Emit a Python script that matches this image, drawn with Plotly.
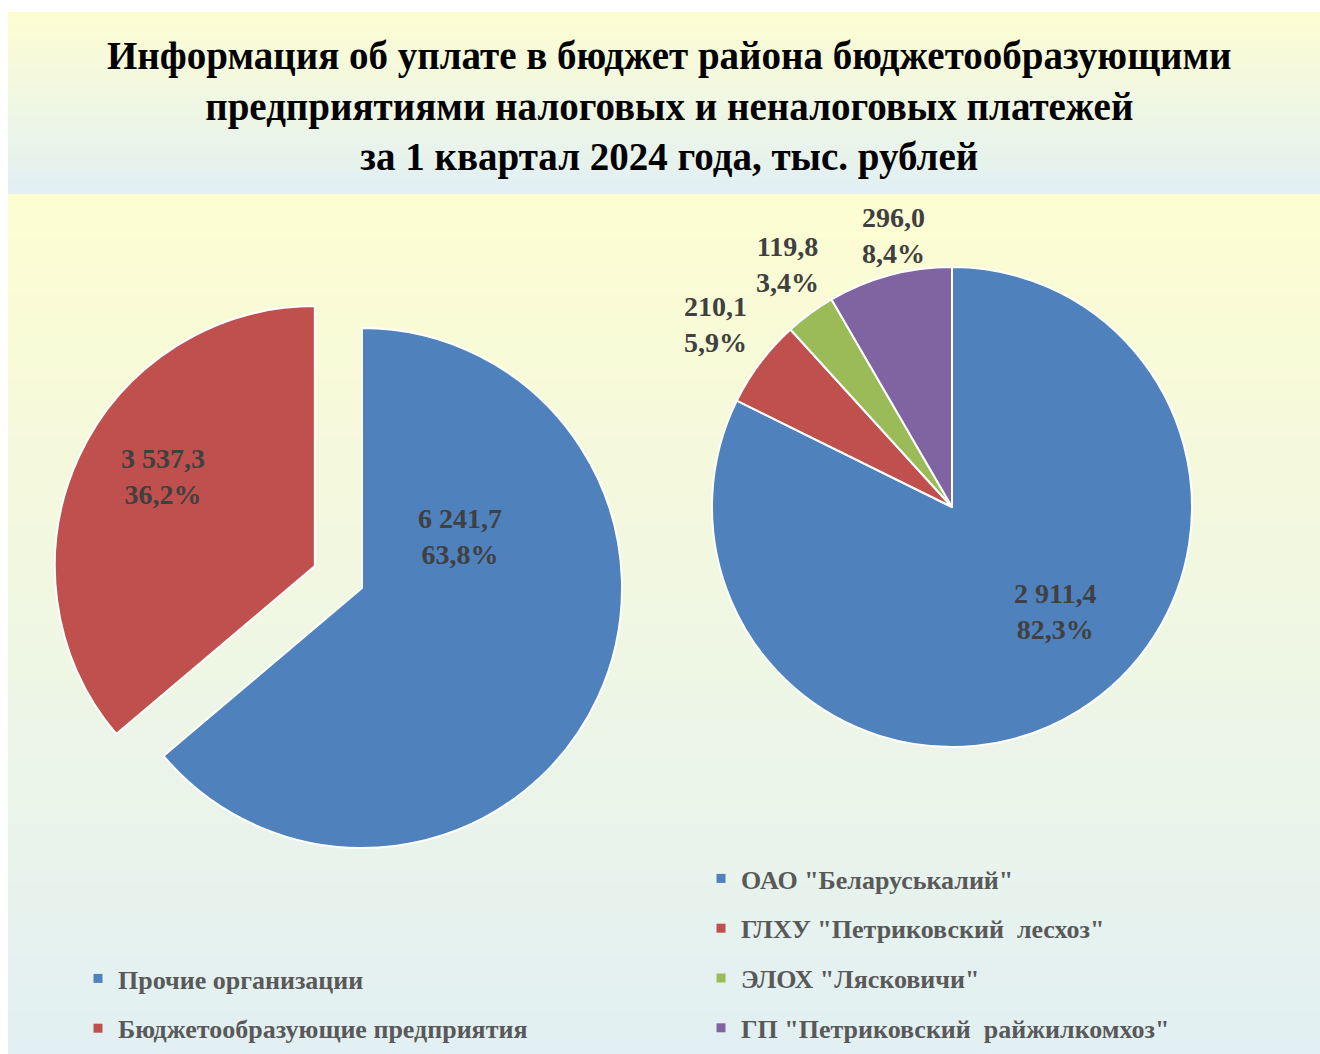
import plotly.graph_objects as go

# ---- data ----
left_labels = ["Прочие организации", "Бюджетообразующие предприятия"]
left_values = [6241.7, 3537.3]
right_labels = ['ОАО "Беларуськалий"', 'ГЛХУ "Петриковский  лесхоз"',
                'ЭЛОХ "Лясковичи"', 'ГП "Петриковский  райжилкомхоз"']
right_values = [2911.4, 210.1, 119.8, 296.0]
title_lines = ["Информация об уплате в бюджет района бюджетообразующими",
               "предприятиями налоговых и неналоговых платежей",
               "за 1 квартал 2024 года, тыс. рублей"]

left_colors = ["#4F81BD", "#C0504D"]
right_colors = ["#4F81BD", "#C0504D", "#9BBB59", "#8064A2"]

# label anchor positions (pixels) -- styling only
left_label_pos = [(460, 536), (163, 476)]
right_label_pos = [(1055, 611), (715, 324), (787, 264), (893, 236)]

W, H = 1320, 1054
FONT = "Liberation Serif"


def fmt_num(v):
    return f"{v:,.1f}".replace(",", " ").replace(".", ",")


def fmt_pct(v, tot):
    return f"{v / tot * 100:.1f}%".replace(".", ",")


fig = go.Figure()

# left pie (pull on second slice)
fig.add_trace(go.Pie(
    labels=left_labels, values=left_values, sort=False, direction="clockwise",
    rotation=0, pull=[0, 0.2], textinfo="none",
    marker=dict(colors=left_colors, line=dict(color="white", width=2)),
    domain=dict(x=[(362 - 312) / W, (362 + 312) / W], y=[1 - (588 + 312) / H, 1 - (588 - 312) / H]),
    showlegend=False, hoverinfo="label+value+percent",
))

# right pie
fig.add_trace(go.Pie(
    labels=right_labels, values=right_values, sort=False, direction="clockwise",
    rotation=0, textinfo="none",
    marker=dict(colors=right_colors, line=dict(color="white", width=2)),
    domain=dict(x=[(952 - 240) / W, (952 + 240) / W], y=[1 - (507 + 240) / H, 1 - (507 - 240) / H]),
    showlegend=False, hoverinfo="label+value+percent",
))

# legend entries (one group per category for spacing)
for lab, col in zip(left_labels, left_colors):
    fig.add_trace(go.Scatter(x=[None], y=[None], mode="markers", name=lab,
                             marker=dict(symbol="square", size=9, color=col),
                             legend="legend", legendgroup="L" + lab))
for lab, col in zip(right_labels, right_colors):
    fig.add_trace(go.Scatter(x=[None], y=[None], mode="markers", name=lab,
                             marker=dict(symbol="square", size=9, color=col),
                             legend="legend2", legendgroup="R" + lab))

# data labels
annotations = []
ltot = sum(left_values)
for v, (px, py) in zip(left_values, left_label_pos):
    annotations.append(dict(text=f"<b>{fmt_num(v)}<br>{fmt_pct(v, ltot)}</b>",
                            x=px / W, y=1 - py / H, xref="paper", yref="paper",
                            xanchor="center", yanchor="middle", showarrow=False,
                            font=dict(family=FONT, size=28, color="#404040")))
rtot = sum(right_values)
for v, (px, py) in zip(right_values, right_label_pos):
    annotations.append(dict(text=f"<b>{fmt_num(v)}<br>{fmt_pct(v, rtot)}</b>",
                            x=px / W, y=1 - py / H, xref="paper", yref="paper",
                            xanchor="center", yanchor="middle", showarrow=False,
                            font=dict(family=FONT, size=28, color="#404040")))

annotations.append(dict(text="<b>" + "<br>".join(title_lines) + "</b>",
                        x=0.507, y=1 - 32 / H, xref="paper", yref="paper",
                        xanchor="center", yanchor="top", showarrow=False,
                        font=dict(family=FONT, size=39, color="black"),
                        align="center"))

# gradient background bands
shapes = []
x0p = 8 / W


def band(ytop, ybot, c1, c2, n=40):
    for i in range(n):
        t = i / (n - 1)
        r = round(c1[0] + (c2[0] - c1[0]) * t)
        g = round(c1[1] + (c2[1] - c1[1]) * t)
        b = round(c1[2] + (c2[2] - c1[2]) * t)
        ya = ytop + (ybot - ytop) * i / n
        yb = ytop + (ybot - ytop) * (i + 1) / n + 0.6
        shapes.append(dict(type="rect", xref="paper", yref="paper",
                           x0=x0p, x1=1, y0=1 - yb / H, y1=1 - ya / H,
                           fillcolor=f"rgb({r},{g},{b})", line=dict(width=0),
                           layer="below"))


yellow = (253, 253, 210)
blue = (226, 240, 243)
band(12, 194, yellow, blue, 30)
band(194, H, yellow, blue, 60)

legend_common = dict(font=dict(family=FONT, size=26, color="#595959", weight="bold"),
                     bgcolor="rgba(0,0,0,0)", tracegroupgap=13,
                     itemclick=False, itemdoubleclick=False,
                     xanchor="left", yanchor="top", itemwidth=30)

fig.update_layout(
    width=W, height=H,
    margin=dict(l=0, r=0, t=0, b=0),
    paper_bgcolor="white", plot_bgcolor="rgba(0,0,0,0)",
    separators=", ",
    shapes=shapes,
    annotations=annotations,
    xaxis=dict(visible=False), yaxis=dict(visible=False),
    legend=dict(x=78 / W, y=1 - 955 / H, **legend_common),
    legend2=dict(x=701 / W, y=1 - 855 / H, **legend_common),
)

fig.write_html("out.html")
